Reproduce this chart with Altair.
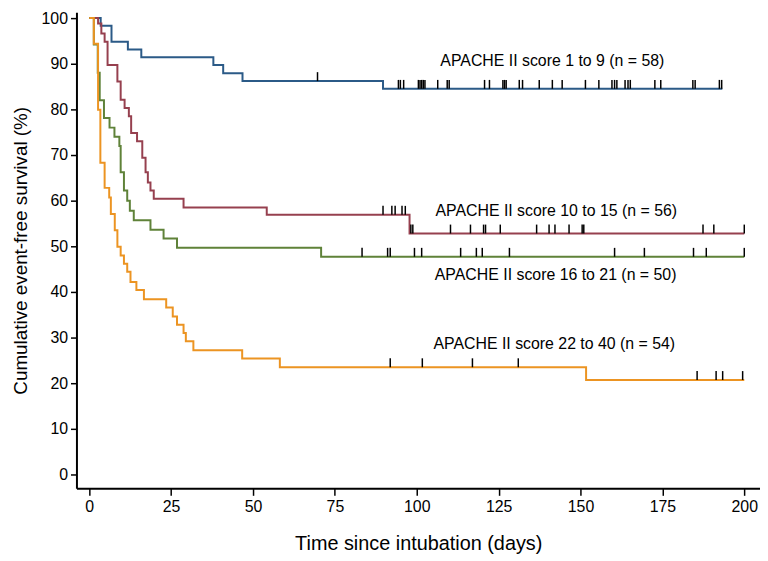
import altair as alt
import pandas as pd

# ---------------- data ----------------
group_names = [
    "APACHE II score 1 to 9 (n = 58)",
    "APACHE II score 10 to 15 (n = 56)",
    "APACHE II score 16 to 21 (n = 50)",
    "APACHE II score 22 to 40 (n = 54)",
]
group_colors = ["#2b5a87", "#96404f", "#5f8239", "#ec9422"]

# step curves (time in days, survival in %)
blue_t = [0, 3.5, 6.8, 11.8, 15.9, 37.9, 40.9, 46.8, 89.7, 193.3]
blue_s = [100, 98.3, 94.8, 93.1, 91.4, 89.7, 87.9, 86.2, 84.5, 84.5]
blue_cens = [69.7, 94.4, 95.0, 96.0, 100.5, 101.0, 101.5, 102.0, 102.5, 106.4,
             109.3, 109.9, 120.7, 122.2, 126.3, 126.8, 127.3, 131.3, 132.3, 137.4,
             141.4, 144.4, 151.5, 155.6, 159.6, 160.4, 161.1, 163.6, 164.5, 165.2,
             172.7, 174.5, 184.3, 185.0, 192.4, 193.1]

red_t = [0, 2.7, 3.7, 4.7, 5.6, 8.6, 9.6, 10.8, 12.1, 12.8, 14.6, 16.2, 17.2,
         17.9, 18.7, 19.7, 28.8, 54.2, 97.8, 200]
red_s = [100, 98.8, 96.6, 94.8, 89.7, 86.1, 82.1, 80.3, 78.5, 74.8, 73.0, 69.4,
         66.2, 64.0, 62.2, 60.4, 58.5, 56.9, 52.8, 52.8]
red_cens = [89.7, 92.4, 93.4, 95.5, 96.5, 98.2, 98.8, 110.3, 116.4, 120.4, 121.0,
            125.5, 136.6, 140.4, 142.2, 146.5, 150.5, 151.0, 187.4, 190.7, 200.0]

green_t = [0, 1.4, 2.6, 3.2, 4.5, 6.2, 7.7, 9.2, 9.6, 10.6, 11.6, 12.4, 13.6,
           18.7, 22.7, 26.8, 70.8, 200]
green_s = [100, 94.2, 88.0, 82.0, 78.1, 76.0, 74.0, 72.0, 66.2, 62.2, 60.0, 57.8,
           55.7, 53.6, 51.7, 49.7, 47.7, 47.7]
green_cens = [83.3, 91.1, 91.9, 99.3, 101.5, 113.4, 118.2, 120.0, 128.3, 160.4,
              169.5, 184.5, 188.4, 200.0]

orange_t = [0, 1.4, 2.7, 3.4, 4.7, 6.1, 6.6, 7.8, 8.6, 9.6, 10.6, 11.6, 12.6, 14.4,
            16.7, 23.5, 25.5, 26.8, 28.8, 29.5, 31.8, 46.7, 58.2, 151.7, 200]
orange_s = [100, 94.4, 79.9, 68.3, 62.8, 60.7, 57.1, 53.5, 49.9, 48.0, 46.2, 44.4,
            42.2, 40.4, 38.4, 36.6, 34.6, 32.8, 31.0, 29.2, 27.2, 25.4, 23.5, 20.7, 20.7]
orange_cens = [91.9, 101.7, 117.0, 131.0, 185.6, 191.4, 193.4, 199.5]

# label anchors (data coordinates: day, %)
label_day = [141.4, 142.6, 142.4, 142.0]
label_pct = [90.6, 57.7, 43.7, 28.5]

x_ticks = [0, 25, 50, 75, 100, 125, 150, 175, 200]
y_ticks = [0, 10, 20, 30, 40, 50, 60, 70, 80, 90, 100]

# ---------------- build tables ----------------
curves = [(blue_t, blue_s, blue_cens), (red_t, red_s, red_cens),
          (green_t, green_s, green_cens), (orange_t, orange_s, orange_cens)]


def level_at(ts, ss, t):
    v = ss[0]
    for ti, si in zip(ts, ss):
        if ti <= t:
            v = si
    return v


x_scale = alt.Scale(domain=[-3.9, 204.8], nice=False, zero=False)
y_scale = alt.Scale(domain=[-3.04, 101.3], nice=False, zero=False)

x_axis = alt.Axis(values=x_ticks, title="Time since intubation (days)", grid=False,
                  tickSize=7, tickWidth=1.5, domainWidth=2, labelFontSize=16,
                  titleFontSize=20, titleFontWeight="normal", labelPadding=3,
                  titlePadding=20, domainColor="black", tickColor="black",
                  labelColor="black", titleColor="black", labelFlush=False)
y_axis = alt.Axis(values=y_ticks, title="Cumulative event-free survival (%)", grid=False,
                  tickSize=6, tickWidth=1.5, domainWidth=2, labelFontSize=16,
                  titleFontSize=19, titleFontWeight="normal", labelPadding=3,
                  titlePadding=11, domainColor="black", tickColor="black",
                  labelColor="black", titleColor="black", labelFlush=False)

X = lambda f: alt.X(f, scale=x_scale, axis=x_axis)
Y = lambda f: alt.Y(f, scale=y_scale, axis=y_axis)

layers = []
for i, (ts, ss, cens) in enumerate(curves):
    df = pd.DataFrame({"t": ts, "s": ss})
    line = alt.Chart(df).mark_line(interpolate="step-after", strokeWidth=2,
                                   color=group_colors[i]).encode(
        x=X("t:Q"), y=Y("s:Q"),
    )
    layers.append(line)

for i, (ts, ss, cens) in enumerate(curves):
    cdf = pd.DataFrame({"t": cens, "s": [level_at(ts, ss, c) for c in cens]})
    ticks = alt.Chart(cdf).mark_rule(color="black", strokeWidth=1.5, y2Offset=-9).encode(
        x=X("t:Q"), y=Y("s:Q"), y2="s:Q",
    )
    layers.append(ticks)

ldf = pd.DataFrame({"label": group_names, "d": label_day, "p": label_pct})
labels = alt.Chart(ldf).mark_text(fontSize=16, color="black", align="center",
                                  baseline="middle").encode(
    x=X("d:Q"), y=Y("p:Q"), text="label:N",
)
layers.append(labels)

chart = alt.layer(*layers).properties(
    width=689, height=480,
    padding={"left": 69, "top": 2, "right": 0, "bottom": 69},
    autosize="none",
).configure(font="Liberation Sans", view=alt.ViewConfig(stroke=None))

chart.save("out.html", embed_options={"renderer": "svg", "actions": False})
